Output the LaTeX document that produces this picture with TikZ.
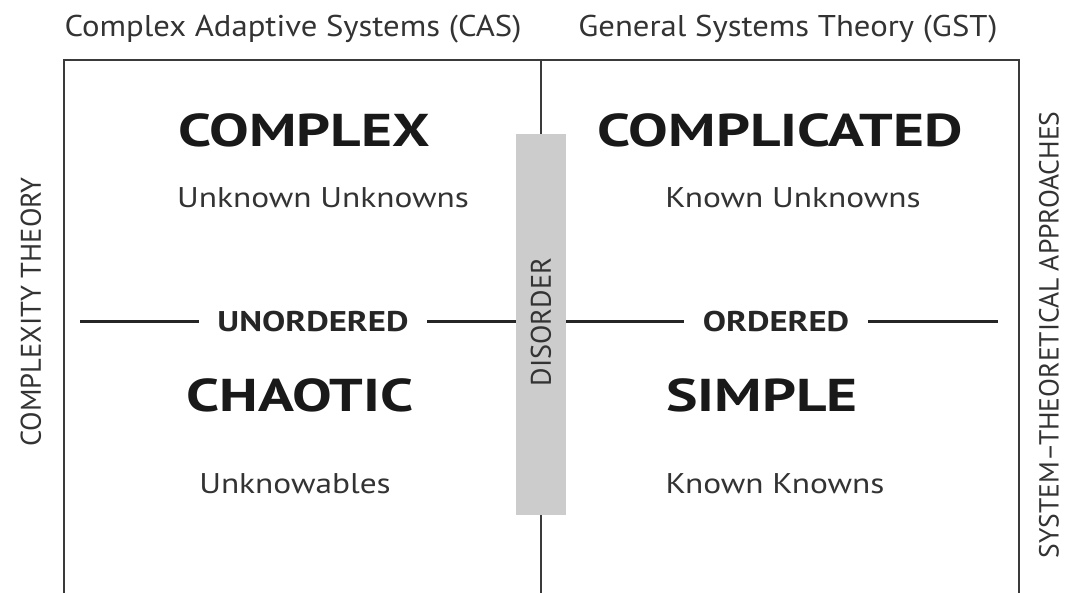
\documentclass[tikz,border=0pt]{standalone}
\usepackage{fontspec}
\setmainfont{PT Sans}
\usetikzlibrary{positioning}
\definecolor{linegray}{HTML}{3A3A3A}
\definecolor{bargray}{HTML}{CCCCCC}
\definecolor{textgray}{HTML}{333333}
\tikzstyle{frame} = [draw=linegray, line width=2pt]
\tikzstyle{divline} = [draw=black!85, line width=3pt]
\tikzstyle{bigword} = [font=\fontsize{46}{46}\selectfont\bfseries, text=black!90, inner sep=0pt, xscale=1.29]
\tikzstyle{subword} = [font=\fontsize{28.5}{28.5}\selectfont, text=textgray, inner sep=0pt, xscale=1.17]
\tikzstyle{axisword} = [font=\fontsize{28.5}{28.5}\selectfont\bfseries, text=black!85, inner sep=0pt, xscale=1.22]
\tikzstyle{headword} = [font=\fontsize{30}{30}\selectfont, text=textgray, inner sep=0pt, xscale=1.09]
\tikzstyle{sideword} = [text=textgray, inner sep=0pt, rotate=90]

\begin{document}
\begin{tikzpicture}[x=1pt, y=-1pt]
    \useasboundingbox (0,0) rectangle (1072,593);

    % frame and middle divider
    \coordinate (bl) at (64,593);
    \coordinate (tl) at (64,60);
    \coordinate (tr) at (1019,60);
    \coordinate (br) at (1019,593);
    \coordinate (mt) at (541,60);
    \coordinate (mb) at (541,593);
    \draw [frame] (bl) -- (tl) -- (tr) -- (br);
    \draw [frame] (mt) -- (mb);

    % headings outside the frame
    \node (cas) [headword] at (293,29) {Complex Adaptive Systems (CAS)};
    \node (gst) [headword] at (788,29) {General Systems Theory (GST)};
    \node (ctheory) [sideword, font=\fontsize{28.5}{28.5}\selectfont] at (31,312) {COMPLEXITY THEORY};
    \node (stheory) [sideword, font=\fontsize{27.6}{27.6}\selectfont] at (1049,335) {SYSTEM--THEORETICAL APPROACHES};

    % quadrants
    \node (complex) [bigword] at (304,130) {COMPLEX};
    \node (uu) [subword] at (323,198) {Unknown Unknowns};
    \node (complicated) [bigword] at (780,130) {COMPLICATED};
    \node (ku) [subword] at (793,198) {Known Unknowns};
    \node (chaotic) [bigword] at (300,395) {CHAOTIC};
    \node (ub) [subword] at (295,484) {Unknowables};
    \node (simple) [bigword] at (762,395) {SIMPLE};
    \node (kk) [subword] at (775,484) {Known Knowns};

    % disorder bar
    \node (disorder) [fill=bargray, minimum width=50pt, minimum height=381pt, inner sep=0pt] at (541,324.5) {};
    \node (distext) [sideword, font=\fontsize{28.3}{28.3}\selectfont] at (541,322) {DISORDER};

    % ordered / unordered axis
    \coordinate (uleft) at (80,322);
    \coordinate (oright) at (998,322);
    \node (unordered) [axisword, inner xsep=15pt] at (313,322) {UNORDERED};
    \node (ordered) [axisword, inner xsep=15pt] at (776,322) {ORDERED};
    \draw [divline] (uleft) -- (unordered);
    \draw [divline] (unordered) -- (disorder.west |- unordered);
    \draw [divline] (disorder.east |- ordered) -- (ordered);
    \draw [divline] (ordered) -- (oright);
\end{tikzpicture}
\end{document}
